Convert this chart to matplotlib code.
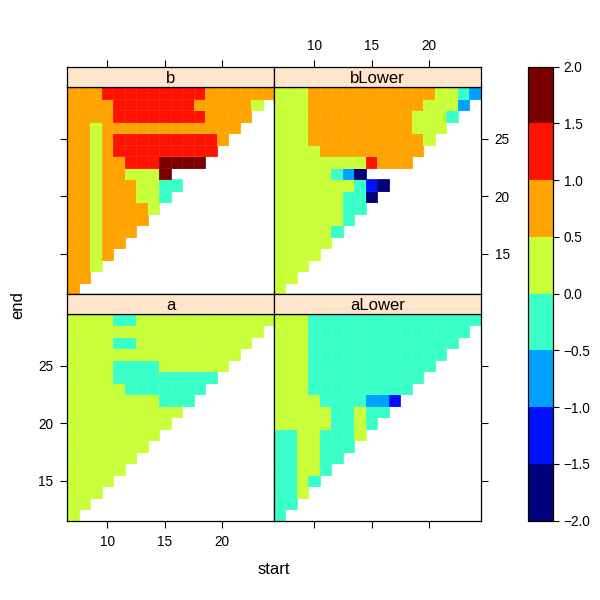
import numpy as np
import matplotlib.pyplot as plt
from matplotlib.colors import ListedColormap, BoundaryNorm

plt.rcParams['font.family'] = ['Liberation Sans', 'DejaVu Sans']
plt.rcParams['axes.unicode_minus'] = True

# grid : start 7..24, end 12..29
start = np.arange(7, 25)
end = np.arange(12, 30)

# level codes (one value per colour band)
code_val = {'N': -1.75, 'B': -1.25, 'L': -0.75, 'A': -0.25,
            'Y': 0.25, 'O': 0.75, 'R': 1.25, 'D': 1.75, '.': np.nan}

# rows from end = 29 down to end = 12
b_rows = [
    "OOORRRRRRRRROOOOOO",
    "OOOORRRRRRROOOOOY.",
    "OOOORRRRRRRROOOO..",
    "OOYOOOOOOOOOOOO...",
    "OOYORRRRRRRRRO....",
    "OOYORRRRRRRRR.....",
    "OOYOORRRDDDD......",
    "OOYOOYYYD.........",
    "OOYOOOYYAA........",
    "OOYOOOYYA.........",
    "OOYOOOOY..........",
    "OOYOOOO...........",
    "OOYOOO............",
    "OOYOO.............",
    "OOYO..............",
    "OOY...............",
    "OO................",
    "O.................",
]
bLower_rows = [
    "YYYOOOOOOOOOOOYYAL",
    "YYYOOOOOOOOOOYYYL.",
    "YYYOOOOOOOOOYYYA..",
    "YYYOOOOOOOOOYYY...",
    "YYYOOOOOOOOOOY....",
    "YYYYOOOOOOOOO.....",
    "YYYYYYYYROOO......",
    "YYYYYALN..........",
    "YYYYYYYABN........",
    "YYYYYYAAN.........",
    "YYYYYYAA..........",
    "YYYYYYA...........",
    "YYYYYA............",
    "YYYYY.............",
    "YYYY..............",
    "YYY...............",
    "YY................",
    "Y.................",
]
a_rows = [
    "YYYYAAYYYYYYYYYYYY",
    "YYYYYYYYYYYYYYYYY.",
    "YYYYAAYYYYYYYYYY..",
    "YYYYYYYYYYYYYYY...",
    "YYYYAAAAYYYYYY....",
    "YYYYAAAAAAAAA.....",
    "YYYYYAAAAAAA......",
    "YYYYYYYYAAA.......",
    "YYYYYYYYYY........",
    "YYYYYYYYY.........",
    "YYYYYYYY..........",
    "YYYYYYY...........",
    "YYYYYY............",
    "YYYYY.............",
    "YYYY..............",
    "YYY...............",
    "YY................",
    "Y.................",
]
aLower_rows = [
    "YYYAAAAAAAAAAAAAAA",
    "YYYAAAAAAAAAAAAAA.",
    "YYYAAAAAAAAAAAAA..",
    "YYYAAAAAAAAAAAA...",
    "YYYAAAAAAAAAAA....",
    "YYYAAAAAAAAAA.....",
    "YYYAAAAAAAAA......",
    "YYYYAAAALLB.......",
    "YYYYYAAYAA........",
    "YYYYYAAYA.........",
    "AAYYAAAY..........",
    "AAYYAAA...........",
    "AAYYAA............",
    "AAYYA.............",
    "AAYA..............",
    "AAY...............",
    "AA................",
    "A.................",
]

levels = np.arange(-2, 2.01, 0.5)
colors = ['#00007A', '#0010FF', '#00A0FF', '#38FFC8',
          '#C8FF38', '#FFA300', '#FF1300', '#7A0000']
cmap = ListedColormap(colors)
norm = BoundaryNorm(levels, cmap.N)


def to_grid(rows):
    z = np.array([[code_val[c] for c in r] for r in rows])
    return np.ma.masked_invalid(z[::-1])  # bottom row = end 12


W = 600.0


def rect(x0, y0, x1, y1):
    return [x0 / W, 1 - y1 / W, (x1 - x0) / W, (y1 - y0) / W]


fig = plt.figure(figsize=(6, 6), dpi=100)

cols = [(67.3, 274.0), (274.0, 480.7)]
rows_px = [(67.3, 87.3, 294.0), (294.0, 314.0, 520.7)]
panels = [("b", b_rows, 0, 0), ("bLower", bLower_rows, 0, 1),
          ("a", a_rows, 1, 0), ("aLower", aLower_rows, 1, 1)]

xe = np.arange(6.5, 25.0, 1)
ye = np.arange(11.5, 30.0, 1)
xt = [10, 15, 20]
yt = [15, 20, 25]

for name, rows, r, c in panels:
    x0, x1 = cols[c]
    s0, s1, p1 = rows_px[r]
    ax = fig.add_axes(rect(x0, s1, x1, p1))
    ax.pcolormesh(xe, ye, to_grid(rows), cmap=cmap, norm=norm,
                  edgecolors=(1, 1, 1, 0.07), linewidth=0.4)
    ax.set_xlim(6.5, 24.5)
    ax.set_ylim(11.5, 29.5)
    for sp in ax.spines.values():
        sp.set_linewidth(0.9)
    ax.tick_params(direction='out', length=5, width=0.8, labelsize=9.8, pad=5)
    ax.set_xticks(xt)
    ax.set_yticks(yt)
    # x ticks at bottom only for bottom row
    if r == 1:
        ax.tick_params(axis='x', bottom=True, labelbottom=(c == 0))
    else:
        ax.tick_params(axis='x', bottom=False, labelbottom=False)
    # y ticks on the outer side
    if c == 0:
        ax.tick_params(axis='y', left=True, right=False,
                       labelleft=(r == 1), labelright=False)
    else:
        ax.tick_params(axis='y', left=False, right=True,
                       labelleft=False, labelright=(r == 0))

    st = fig.add_axes(rect(x0, s0, x1, s1))
    st.set_facecolor('#FFE5CC')
    st.set_xlim(6.5, 24.5)
    st.set_yticks([])
    for sp in st.spines.values():
        sp.set_linewidth(0.9)
    st.text(0.5, 0.45, name, transform=st.transAxes, ha='center',
            va='center', fontsize=12)
    if r == 0:
        st.set_xticks(xt)
        st.tick_params(axis='x', direction='out', length=5, width=0.8,
                       bottom=False, labelbottom=False, top=True,
                       labeltop=(c == 1), labelsize=9.8, pad=5)
    else:
        st.set_xticks([])

cax = fig.add_axes(rect(527.7, 66.7, 552.7, 520.7))
cb = fig.colorbar(plt.cm.ScalarMappable(norm=norm, cmap=cmap), cax=cax,
                  ticks=levels)
cb.ax.set_yticklabels([f"{v:.1f}".replace('-', '\u2212') for v in levels])
cb.ax.tick_params(direction='out', length=4, width=0.8, labelsize=9.8, pad=4)
cb.outline.set_linewidth(0.9)

fig.text(274 / W, 1 - 570 / W, "start", ha='center', va='center', fontsize=12)
fig.text(18 / W, 1 - 305 / W, "end", ha='center', va='center',
         rotation=90, fontsize=12)

fig.savefig("out.png", dpi=100)
